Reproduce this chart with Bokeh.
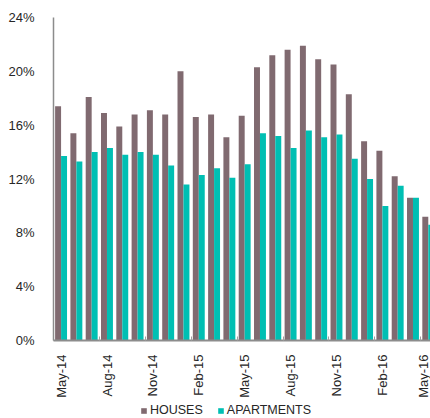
import math
from bokeh.plotting import figure
from bokeh.layouts import column
from bokeh.models import (ColumnDataSource, Range1d, FixedTicker, Legend,
                          LegendItem, PrintfTickFormatter)
from bokeh.transform import dodge
from bokeh.embed import file_html
from bokeh.resources import INLINE

# Monthly annual growth rates (%)
months = ["May-14", "Jun-14", "Jul-14", "Aug-14", "Sep-14", "Oct-14", "Nov-14",
          "Dec-14", "Jan-15", "Feb-15", "Mar-15", "Apr-15", "May-15", "Jun-15",
          "Jul-15", "Aug-15", "Sep-15", "Oct-15", "Nov-15", "Dec-15", "Jan-16",
          "Feb-16", "Mar-16", "Apr-16", "May-16"]
houses = [17.4, 15.4, 18.1, 16.9, 15.9, 16.8, 17.1, 16.8, 20.0, 16.6, 16.8,
          15.1, 16.7, 20.3, 21.2, 21.6, 21.9, 20.9, 20.5, 18.3, 14.8, 14.1,
          12.2, 10.6, 9.2]
apartments = [13.7, 13.3, 14.0, 14.3, 13.8, 14.0, 13.8, 13.0, 11.6, 12.3, 12.8,
              12.1, 13.1, 15.4, 15.2, 14.3, 15.6, 15.1, 15.3, 13.5, 12.0, 10.0,
              11.5, 10.6, 8.6]
y_ticks = [0, 4, 8, 12, 16, 20, 24]
series_names = ["HOUSES", "APARTMENTS"]

HOUSE_COLOR = "#806a70"
APT_COLOR = "#00bfb3"
FONT = "Liberation Sans"
TEXT_COLOR = "#262626"

idx = list(range(len(months)))
src = ColumnDataSource(dict(x=idx, houses=houses, apartments=apartments))

p = figure(width=430, height=400, output_backend="svg", toolbar_location=None,
           x_range=Range1d(-0.5, 24.14), y_range=Range1d(0, 24),
           min_border_left=53, min_border_right=0, min_border_top=17,
           min_border_bottom=58)
p.outline_line_color = None
p.xgrid.visible = False
p.ygrid.visible = False

p.vbar(x=dodge("x", -0.2, range=p.x_range), top="houses", width=0.39,
       source=src, fill_color=HOUSE_COLOR, line_color=None)
p.vbar(x=dodge("x", 0.19, range=p.x_range), top="apartments", width=0.39,
       source=src, fill_color=APT_COLOR, line_color=None)

# y axis
p.yaxis.ticker = FixedTicker(ticks=y_ticks)
p.yaxis.formatter = PrintfTickFormatter(format="%d%%")
p.yaxis.major_tick_line_color = None
p.yaxis.minor_tick_line_color = None
p.yaxis.axis_line_color = "#8c8c8c"
p.yaxis.axis_line_width = 1.5
p.yaxis.major_label_standoff = 13
p.yaxis.major_label_text_font = FONT
p.yaxis.major_label_text_font_size = "13px"
p.yaxis.major_label_text_color = TEXT_COLOR

# x axis: labels every 3 months, small marks at the group boundaries
label_pos = idx[::3]
p.xaxis.ticker = FixedTicker(ticks=label_pos,
                             minor_ticks=[i - 0.5 for i in label_pos])
p.xaxis.major_label_overrides = {i: months[i] for i in label_pos}
p.xaxis.major_tick_line_color = None
p.xaxis.minor_tick_in = 4
p.xaxis.minor_tick_out = 0
p.xaxis.minor_tick_line_color = "#a0a0a0"
p.xaxis.axis_line_color = "#8c8c8c"
p.xaxis.axis_line_width = 2
p.xaxis.major_label_orientation = math.pi / 2
p.xaxis.major_label_standoff = 8
p.xaxis.major_label_text_font = FONT
p.xaxis.major_label_text_font_size = "13px"
p.xaxis.major_label_text_color = TEXT_COLOR

# legend strip under the chart (its frame lines up with the chart frame)
leg = figure(width=430, height=18, output_backend="svg", toolbar_location=None,
             x_range=Range1d(0, 1), y_range=Range1d(0, 1),
             x_axis_type=None, y_axis_type=None,
             min_border_left=0, min_border_right=0, min_border_top=0,
             min_border_bottom=0)
leg.outline_line_color = None
leg.xgrid.visible = False
leg.ygrid.visible = False
# single off-range row so the legend swatches have something to draw from
swatch = ColumnDataSource(dict(x=[-10], top=[0]))
lh = leg.vbar(x="x", top="top", width=0.1, source=swatch,
              fill_color=HOUSE_COLOR, line_color=None)
la = leg.vbar(x="x", top="top", width=0.1, source=swatch,
              fill_color=APT_COLOR, line_color=None)
legend = Legend(items=[LegendItem(label=series_names[0], renderers=[lh]),
                       LegendItem(label=series_names[1], renderers=[la])],
                orientation="horizontal", location=(87, 1),
                glyph_width=7, glyph_height=7, label_standoff=3, spacing=14,
                padding=0, margin=0, border_line_color=None,
                background_fill_alpha=0, label_height=14,
                label_text_font=FONT, label_text_font_size="12.5px",
                label_text_color=TEXT_COLOR)
leg.add_layout(legend, "center")

open("out.html", "w").write(file_html(column(p, leg, spacing=0), INLINE))
